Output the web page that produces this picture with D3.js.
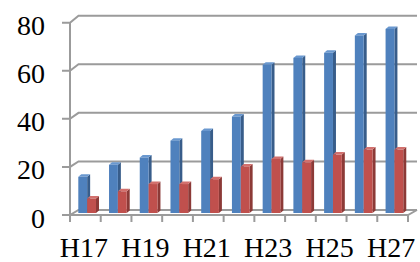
<!DOCTYPE html>
<html>
<head>
<meta charset="utf-8">
<script src="https://cdn.jsdelivr.net/npm/d3@7"></script>
</head>
<body style="margin:0">
<script>
var categories = ['H17', 'H18', 'H19', 'H20', 'H21', 'H22', 'H23', 'H24', 'H25', 'H26', 'H27'];
var blueValues = [15, 20, 23, 30, 34, 40, 61.5, 64.3, 66.4, 73.6, 76.3];
var redValues = [6, 9, 12, 12, 14, 19.3, 22.4, 21, 24.2, 26.3, 26.3];
var yTicks = [0, 20, 40, 60, 80];
var xLabels = ['H17', 'H19', 'H21', 'H23', 'H25', 'H27'];

var width = 420, height = 262;
var grey = '#9b9b9b';
var depthX = 8.5; // floor depth shift

var svg = d3.select('body').append('svg')
  .attr('width', width)
  .attr('height', height);

var x = d3.scaleBand().domain(categories).range([70, 408]);
var yFront = d3.scaleLinear().domain([0, 80]).range([215, 22.7]);
var yBack = d3.scaleLinear().domain([0, 80]).range([210, 15.7]);
var yBar = d3.scaleLinear().domain([0, 80]).range([213, 20]);

// back wall gridlines + side wall diagonals
var grid = svg.append('g').attr('stroke', grey).attr('stroke-width', 2).attr('fill', 'none');
yTicks.forEach(function(t) {
  grid.append('path')
    .attr('d', 'M62,' + yFront(t) + 'L70,' + yFront(t) + 'L' + (70 + depthX) + ',' + yBack(t) + 'L417,' + yBack(t));
});
// vertical axis
grid.append('line').attr('x1', 70).attr('x2', 70).attr('y1', yFront(80)).attr('y2', yFront(0));
// floor front edge and right edge
grid.append('path').attr('d', 'M70,' + yFront(0) + 'L408,' + yFront(0) + 'L417,' + yBack(0));
// category ticks
categories.concat(['end']).forEach(function(c, i) {
  var xx = i < categories.length ? x(c) : x.range()[1];
  grid.append('line').attr('x1', xx).attr('x2', xx).attr('y1', yFront(0)).attr('y2', yFront(0) + 7);
});

// bars
var sub = d3.scaleBand().domain(['blue', 'red']).range([8.3, 26]);
var sx = 3, sy = 2.5;
var series = [
  { key: 'blue', values: blueValues, front: '#4f81bd', side: '#385d8a', top: '#6a98cf' },
  { key: 'red', values: redValues, front: '#c0504d', side: '#8c3a37', top: '#d2706d' }
];

series.forEach(function(s) {
  var g = svg.append('g');
  var w = sub.bandwidth();
  s.values.forEach(function(v, i) {
    var x0 = x(categories[i]) + sub(s.key);
    var yt = yBar(v), yb = yBar(0);
    g.append('path').attr('fill', s.side)
      .attr('d', 'M' + (x0 + w) + ',' + yt + 'L' + (x0 + w + sx) + ',' + (yt - sy) + 'L' + (x0 + w + sx) + ',' + (yb - sy) + 'L' + (x0 + w) + ',' + yb + 'Z');
    g.append('path').attr('fill', s.top)
      .attr('d', 'M' + x0 + ',' + yt + 'L' + (x0 + sx) + ',' + (yt - sy) + 'L' + (x0 + w + sx) + ',' + (yt - sy) + 'L' + (x0 + w) + ',' + yt + 'Z');
    g.append('rect').attr('fill', s.front)
      .attr('x', x0).attr('y', yt).attr('width', w).attr('height', yb - yt);
  });
});

// y labels
svg.selectAll('text.ylab')
  .data(yTicks)
  .enter().append('text')
  .attr('class', 'ylab')
  .attr('x', 45)
  .attr('y', function(d) { return yFront(d) + 12.5; })
  .attr('font-size', 28)
  .style('font-family', "'Liberation Serif'")
  .style('text-anchor', 'end')
  .text(function(d) { return d; });

// x labels
svg.selectAll('text.xlab')
  .data(xLabels)
  .enter().append('text')
  .attr('class', 'xlab')
  .attr('x', function(d) { return x(d) + x.bandwidth() / 2 - 1.5; })
  .attr('y', 256.7)
  .attr('font-size', 28)
  .style('font-family', "'Liberation Serif'")
  .style('text-anchor', 'middle')
  .text(function(d) { return d; });
</script>
</body>
</html>
